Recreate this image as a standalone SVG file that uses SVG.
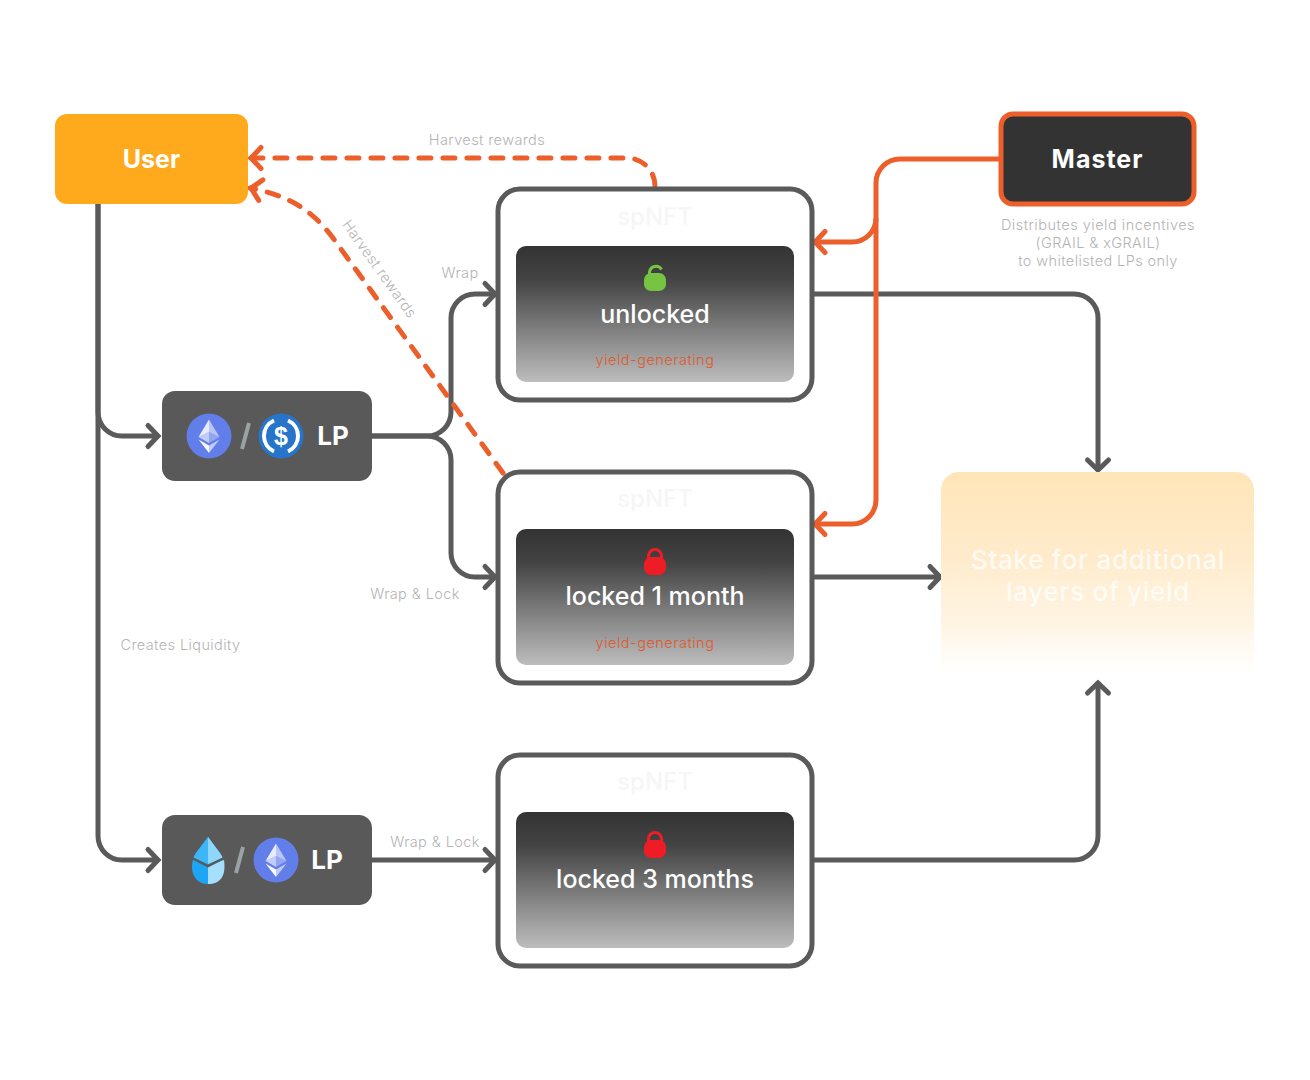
<svg xmlns="http://www.w3.org/2000/svg" width="1310" height="1080" viewBox="0 0 1310 1080">
<style>
text{font-family:"Inter","Liberation Sans",sans-serif;text-anchor:middle}
.c{fill:none;stroke:#5a5a5a;stroke-width:5}
.o{fill:none;stroke:#EC5F2A;stroke-width:5}
.d{stroke-dasharray:12 12;stroke-linecap:round;stroke-width:5;fill:none;stroke:#EC5F2A}
.card{fill:#fff;stroke:#5a5a5a;stroke-width:5}
.inner{fill:url(#g)}
.lab{font-size:14.500px;font-weight:300;fill:#b4b4b4;letter-spacing:.4px}
.sp{font-size:24px;font-weight:500;fill:#f6f6f6}
.st{font-size:26px;font-weight:500;fill:#fff;letter-spacing:.7px}
.yg{font-size:14.500px;font-weight:300;fill:#E0592A;letter-spacing:.5px}
.tt{font-size:25px;font-weight:500;fill:#fff}
.lp{fill:#595959}
.lpt{font-size:26px;font-weight:700;fill:#fff}
.sl{stroke:#9aa3a3;stroke-width:4;fill:none}
.h{font-size:25px;font-weight:700;fill:#fff}
</style>
<defs>
<linearGradient id="g" x1="0" y1="0" x2="0" y2="1"><stop offset="0" stop-color="#333"/><stop offset=".25" stop-color="#444"/><stop offset="1" stop-color="#bdbdbd"/></linearGradient>
<linearGradient id="s" x1="0" y1="0" x2="0" y2="1"><stop offset="0" stop-color="#FFE5B8"/><stop offset=".4" stop-color="#FFEBCB"/><stop offset=".75" stop-color="#FFF5E5"/><stop offset="1" stop-color="#fff" stop-opacity=".4"/></linearGradient>
<marker id="ag" markerUnits="userSpaceOnUse" markerWidth="24" markerHeight="32" refX="18" refY="16" orient="auto"><path d="M7 5.500L17 16L7 26.500" fill="none" stroke="#5a5a5a" stroke-width="5" stroke-linecap="round"/></marker>
<marker id="ao" markerUnits="userSpaceOnUse" markerWidth="24" markerHeight="32" refX="18" refY="16" orient="auto"><path d="M7 5.500L17 16L7 26.500" fill="none" stroke="#EC5F2A" stroke-width="5" stroke-linecap="round"/></marker>
<symbol id="eth" viewBox="-23 -23 46 46" overflow="visible">
<circle r="22.500" fill="#627EEA"/>
<path d="M0-16.500V-4L-10.500 1Z" fill="#fff" fill-opacity=".85"/><path d="M0-16.500V-4L10.500 1Z" fill="#fff" fill-opacity=".55"/>
<path d="M0-4L-10.500 1L0 7Z" fill="#fff" fill-opacity=".6"/><path d="M0-4L10.500 1L0 7Z" fill="#fff" fill-opacity=".3"/>
<path d="M0 9.500V17L-10.500 3.500Z" fill="#fff" fill-opacity=".95"/><path d="M0 9.500V17L10.500 3.500Z" fill="#fff" fill-opacity=".6"/>
</symbol>
</defs>
<rect width="1310" height="1080" fill="#fff"/>
<g id="connectors">
<path class="c" d="M98 204V412A24 24 0 0 0 122 436H159" marker-end="url(#ag)"/>
<path class="c" d="M98 204V836A24 24 0 0 0 122 860H159" marker-end="url(#ag)"/>
<path class="c" d="M372 436H427A24 24 0 0 0 451 412V318A24 24 0 0 1 475 294H496" marker-end="url(#ag)"/>
<path class="c" d="M372 436H427A24 24 0 0 1 451 460V553A24 24 0 0 0 475 577H496" marker-end="url(#ag)"/>
<path class="c" d="M372 860H496" marker-end="url(#ag)"/>
<path class="c" d="M812 294H1074A24 24 0 0 1 1098 318V471" marker-end="url(#ag)"/>
<path class="c" d="M812 577H941" marker-end="url(#ag)"/>
<path class="c" d="M812 860H1074A24 24 0 0 0 1098 836V682" marker-end="url(#ag)"/>
<path class="o" d="M1000 159H900A24 24 0 0 0 876 183V500A24 24 0 0 1 852 524H814" marker-end="url(#ao)"/>
<path class="o" d="M876 218A24 24 0 0 1 852 242H814" marker-end="url(#ao)"/>
<path class="d" d="M655 186A28 28 0 0 0 627 158H250" marker-end="url(#ao)"/>
<path class="d" d="M503 473L333 238C312 210 290 196 250 188" marker-end="url(#ao)"/>
</g>
<g id="user"><rect x="55" y="114" width="193" height="90" rx="12" fill="#FFAA1C"/><text class="h" x="151.500" y="168">User</text></g>
<g id="master"><rect x="1001" y="114" width="193" height="90" rx="12" fill="#333" stroke="#EC5F2A" stroke-width="5"/><text class="h" x="1097.500" y="168" style="letter-spacing:1px">Master</text>
<text class="lab" x="1098" y="230" style="letter-spacing:.5px">Distributes yield incentives</text><text class="lab" x="1098" y="248">(GRAIL &amp; xGRAIL)</text><text class="lab" x="1098" y="266">to whitelisted LPs only</text></g>
<g id="lp-eth-usdc"><rect class="lp" x="162" y="391" width="210" height="90" rx="13"/>
<use href="#eth" x="186" y="413" width="46" height="46"/>
<path class="sl" d="M249 423L242 449"/>
<circle cx="281" cy="436" r="22.500" fill="#2775CA"/>
<path d="M274 420.500A17 17 0 0 0 274 451.500M288 420.500A17 17 0 0 1 288 451.500" fill="none" stroke="#fff" stroke-width="4"/>
<text x="281" y="445" font-size="25" font-weight="700" fill="#fff" style="font-family:'Liberation Sans',sans-serif">$</text>
<text class="lpt" x="333" y="445">LP</text></g>
<g id="lp-lst-eth"><rect class="lp" x="162" y="815" width="210" height="90" rx="13"/>
<path d="M208 837L220 853C228 866 224 884 208 884C192 884 188 866 196 853Z" fill="#1FA5F5"/>
<path d="M208 837L196 853L193 858L208 864Z" fill="#3DB6F7"/>
<path d="M208 837L220 853L223 858L208 864Z" fill="#8FD6FB"/>
<path d="M208 866L224 860C226 874 222 884 208 884Z" fill="#A5DFFC"/>
<path d="M192 858L208 866L224 858" fill="none" stroke="#595959" stroke-width="2.500"/>
<path class="sl" d="M243 847L236 873"/>
<use href="#eth" x="253" y="837" width="46" height="46"/>
<text class="lpt" x="327" y="869">LP</text></g>
<g id="spnft-unlocked"><rect class="card" x="498" y="189" width="314" height="211" rx="22"/><text class="sp" x="655" y="225">spNFT</text>
<rect class="inner" x="516" y="246" width="278" height="136" rx="10"/>
<rect x="644" y="273" width="22" height="18" rx="7" fill="#76C442"/><path d="M649.500 276V272A6.500 6.500 0 0 1 661.500 269.500" fill="none" stroke="#76C442" stroke-width="3"/>
<text class="tt" x="655" y="323">unlocked</text><text class="yg" x="655" y="365">yield-generating</text></g>
<g id="spnft-locked-1"><rect class="card" x="498" y="472" width="314" height="211" rx="22"/><text class="sp" x="655" y="507">spNFT</text>
<rect class="inner" x="516" y="529" width="278" height="136" rx="10"/>
<rect x="644" y="557" width="22" height="18" rx="7" fill="#EE1C25"/><path d="M648.500 559V556A6.500 6.500 0 0 1 661.500 556V559" fill="none" stroke="#EE1C25" stroke-width="3"/>
<text class="tt" x="655" y="605">locked 1 month</text><text class="yg" x="655" y="648">yield-generating</text></g>
<g id="spnft-locked-3"><rect class="card" x="498" y="755" width="314" height="211" rx="22"/><text class="sp" x="655" y="790">spNFT</text>
<rect class="inner" x="516" y="812" width="278" height="136" rx="10"/>
<rect x="644" y="840" width="22" height="18" rx="7" fill="#EE1C25"/><path d="M648.500 842V839A6.500 6.500 0 0 1 661.500 839V842" fill="none" stroke="#EE1C25" stroke-width="3"/>
<text class="tt" x="655" y="888">locked 3 months</text></g>
<g id="stake"><rect x="941" y="472" width="313" height="208" rx="18" fill="url(#s)"/><text class="st" x="1098" y="569" fill-opacity=".75">Stake for additional</text><text class="st" x="1098" y="601" fill-opacity=".75">layers of yield</text></g>
<g id="labels">
<text class="lab" x="487" y="145">Harvest rewards</text>
<text class="lab" x="379.500" y="274" transform="rotate(54.500 379.500 269)">Harvest rewards</text>
<text class="lab" x="460" y="278">Wrap</text>
<text class="lab" x="415" y="599">Wrap &amp; Lock</text>
<text class="lab" x="435" y="847">Wrap &amp; Lock</text>
<text class="lab" x="180.500" y="650">Creates Liquidity</text>
</g>
</svg>
